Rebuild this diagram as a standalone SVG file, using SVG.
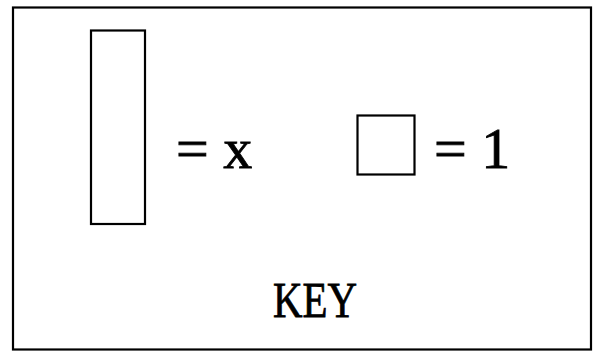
<svg xmlns="http://www.w3.org/2000/svg" width="594" height="353" viewBox="0 0 594 353">
<style>
.box{fill:none;stroke:#000;stroke-width:2.2}
.t{font-family:"Liberation Serif","Times New Roman",serif;fill:#000;stroke:#000;stroke-width:0.8}
</style>
<rect width="594" height="353" fill="#fff"/>
<g id="frame"><rect class="box" x="13" y="7.5" width="578" height="342" stroke-width="2.6"/></g>
<g id="x-tile">
<rect class="box" x="91" y="30.5" width="54" height="193.5"/>
<text class="t" x="176" y="168" font-size="58">= x</text>
</g>
<g id="unit-tile">
<rect class="box" x="357.5" y="115.5" width="57" height="59"/>
<text class="t" x="434" y="168" font-size="58">= 1</text>
</g>
<g id="key-label">
<text class="t" x="273" y="317" font-size="51" textLength="84" lengthAdjust="spacingAndGlyphs">KEY</text>
</g>
<g id="connectors"/>
</svg>
